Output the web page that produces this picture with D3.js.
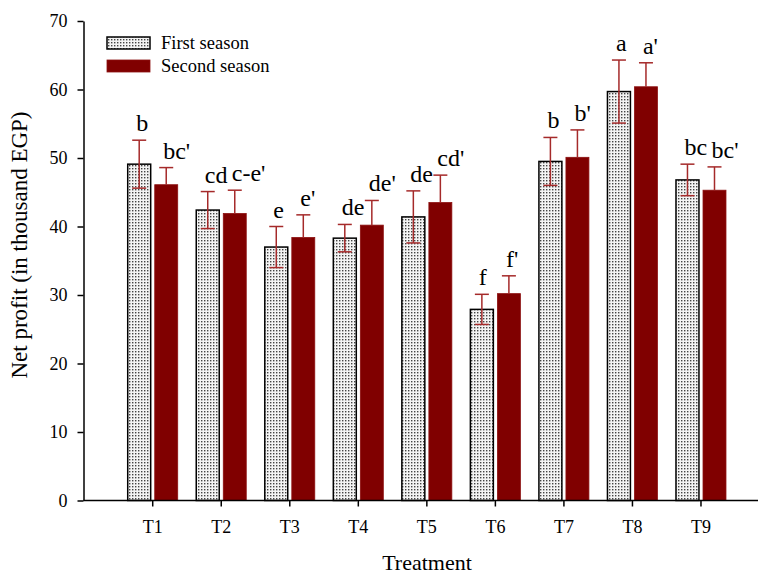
<!DOCTYPE html>
<html>
<head>
<meta charset="utf-8">
<script src="https://cdn.jsdelivr.net/npm/d3@7"></script>
<style>
  body { margin: 0; background: #fff; }
  svg text { font-family: "Liberation Serif", "Times New Roman", serif !important; fill: #000; }
</style>
</head>
<body>
<script>
// chart data
var treatments = ["T1", "T2", "T3", "T4", "T5", "T6", "T7", "T8", "T9"];
var seasons = ["First season", "Second season"];
var firstSeason = [49.1, 42.4, 37.0, 38.3, 41.4, 27.9, 49.5, 59.7, 46.8];
var secondSeason = [46.1, 41.9, 38.4, 40.2, 43.5, 30.2, 50.1, 60.4, 45.3];
var firstErr = [3.5, 2.7, 3.0, 2.0, 3.8, 2.2, 3.5, 4.6, 2.3];
var secondErr = [2.5, 3.4, 3.3, 3.6, 4.0, 2.6, 4.0, 3.5, 3.4];
var firstLetters = ["b", "cd", "e", "de", "de", "f", "b", "a", "bc"];
var secondLetters = ["bc'", "c-e'", "e'", "de'", "cd'", "f'", "b'", "a'", "bc'"];
var yTicks = [0, 10, 20, 30, 40, 50, 60, 70];

var svgWidth = 758;
var svgHeight = 576;
var serif = "'Liberation Serif', 'Times New Roman', serif";

var svg = d3.select("body")
  .append("svg")
  .attr("width", svgWidth)
  .attr("height", svgHeight)
  .attr("font-family", serif);

// dotted fill for first season bars
var defs = svg.append("defs");
var pat = defs.append("pattern")
  .attr("id", "dots")
  .attr("patternUnits", "userSpaceOnUse")
  .attr("width", 3)
  .attr("height", 3);
pat.append("rect").attr("width", 3).attr("height", 3).attr("fill", "#f4f4f4");
pat.append("rect").attr("width", 1.4).attr("height", 1.4).attr("fill", "#444");

// scales
var yScale = d3.scaleLinear()
  .domain([0, 70])
  .range([500.5, 21]);

var xScale = d3.scaleBand()
  .domain(treatments)
  .range([118.45, 735.25])
  .padding(0);

var inner = d3.scaleBand()
  .domain(seasons)
  .range([-25, 25])
  .paddingInner(0.15);

var rows = treatments.map(function(t, i) {
  return [
    { t: t, season: seasons[0], value: firstSeason[i], err: firstErr[i], letter: firstLetters[i] },
    { t: t, season: seasons[1], value: secondSeason[i], err: secondErr[i], letter: secondLetters[i] }
  ];
});
var bars = d3.merge(rows);

function cx(d) { return xScale(d.t) + xScale.bandwidth() / 2; }

// bars
svg.append("g").selectAll("rect")
  .data(bars)
  .enter()
  .append("rect")
  .attr("x", d => cx(d) + inner(d.season))
  .attr("width", inner.bandwidth())
  .attr("y", d => yScale(d.value))
  .attr("height", d => yScale(0) - yScale(d.value))
  .attr("fill", d => d.season === seasons[0] ? "url(#dots)" : "#800000")
  .attr("stroke", d => d.season === seasons[0] ? "#000" : "#8c1010")
  .attr("stroke-width", d => d.season === seasons[0] ? 1.5 : 0.8);

// error bars
var errG = svg.append("g")
  .attr("stroke", "#a52a2a")
  .attr("stroke-width", 1.5);

bars.forEach(function(d) {
  var x = cx(d) + inner(d.season) + inner.bandwidth() / 2;
  var lo = d.season === seasons[0] ? d.value - d.err : d.value;
  errG.append("line")
    .attr("x1", x).attr("x2", x)
    .attr("y1", yScale(lo)).attr("y2", yScale(d.value + d.err));
  errG.append("line")
    .attr("x1", x - 7).attr("x2", x + 7)
    .attr("y1", yScale(d.value + d.err)).attr("y2", yScale(d.value + d.err));
  if (d.season === seasons[0]) {
    errG.append("line")
      .attr("x1", x - 7).attr("x2", x + 7)
      .attr("y1", yScale(lo)).attr("y2", yScale(lo));
  }
});

// significance letters
svg.append("g").selectAll("text")
  .data(bars)
  .enter()
  .append("text")
  .attr("x", d => cx(d) + inner(d.season) + inner.bandwidth() / 2 - 3)
  .attr("y", d => yScale(d.value + d.err) - 9)
  .style("font-size", "24px")
  .text(d => d.letter);

// y axis
var leftAxis = d3.axisLeft(yScale)
  .tickValues(yTicks)
  .tickSize(6)
  .tickSizeOuter(0)
  .tickPadding(10);

svg.append("g")
  .attr("transform", "translate(83.5, 0)")
  .call(leftAxis)
  .attr("font-family", serif)
  .call(g => g.select(".domain").attr("stroke-width", 1.5))
  .call(g => g.selectAll(".tick line").attr("stroke-width", 1.5))
  .call(g => g.selectAll(".tick text").style("font-size", "18px"));

// x axis
var bottomAxis = d3.axisBottom(xScale)
  .tickSize(6)
  .tickSizeOuter(0)
  .tickPadding(14);

var xg = svg.append("g")
  .attr("transform", "translate(0, 500.5)")
  .call(bottomAxis)
  .attr("font-family", serif);
xg.select(".domain").remove();
xg.selectAll(".tick line").attr("stroke-width", 1.5);
xg.selectAll(".tick text").style("font-size", "18px");
xg.append("line")
  .attr("x1", 83.5).attr("x2", svgWidth)
  .attr("stroke", "#000")
  .attr("stroke-width", 1.5);

// axis titles
svg.append("text")
  .attr("x", 427)
  .attr("y", 570)
  .attr("text-anchor", "middle")
  .style("font-size", "22px")
  .text("Treatment");

svg.append("text")
  .attr("transform", "translate(27, 245) rotate(-90)")
  .attr("text-anchor", "middle")
  .style("font-size", "23px")
  .text("Net profit (in thousand EGP)");

// legend
var legend = svg.append("g");
seasons.forEach(function(s, i) {
  legend.append("rect")
    .attr("x", 107)
    .attr("y", 37 + i * 23)
    .attr("width", 43)
    .attr("height", 12)
    .attr("fill", i === 0 ? "url(#dots)" : "#800000")
    .attr("stroke", i === 0 ? "#000" : "#8c1010")
    .attr("stroke-width", i === 0 ? 1.5 : 0.8);
  legend.append("text")
    .attr("x", 161)
    .attr("y", 49 + i * 23)
    .style("font-size", "18.5px")
    .text(s);
});
</script>
</body>
</html>
